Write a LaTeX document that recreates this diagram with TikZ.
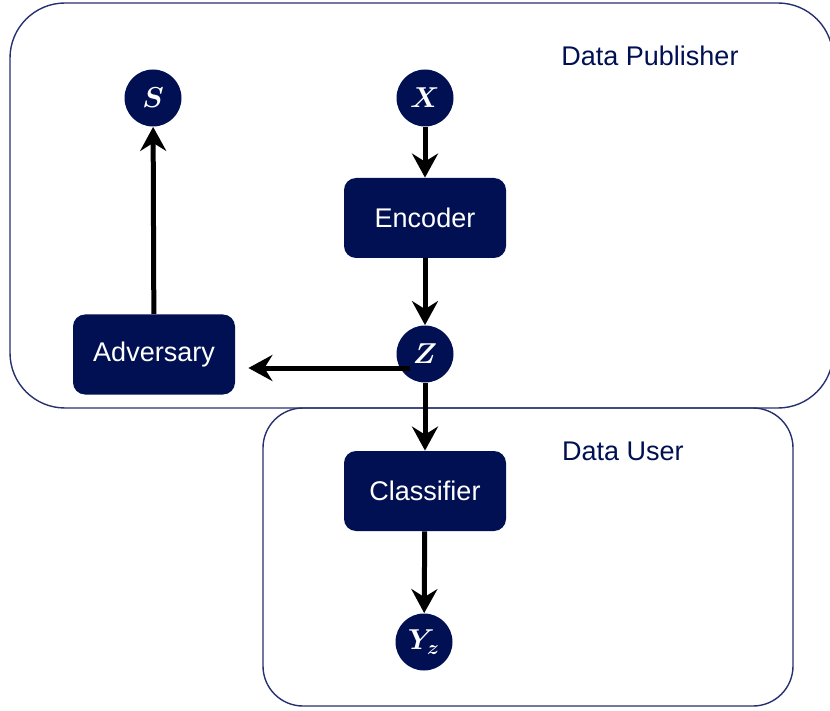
\documentclass[tikz,border=0pt]{standalone}
\usepackage{fontspec}
\setmainfont{Liberation Sans}
\usepackage{amsmath}
\usetikzlibrary{arrows.meta}
\definecolor{navy}{RGB}{0,16,82}
\definecolor{rim}{RGB}{38,48,110}

\begin{document}
\begin{tikzpicture}[x=0.5pt,y=-0.5pt,
  font=\fontsize{13.5}{16}\selectfont,
  var/.style={circle,fill=navy,text=white,minimum size=28.5pt,inner sep=0pt,
    font=\fontsize{14.5}{16}\selectfont},
  block/.style={rectangle,rounded corners=6pt,fill=navy,text=white,
    minimum width=81pt,minimum height=40pt,inner sep=0pt},
  group/.style={draw=rim,line width=0.7pt},
  flow/.style={line width=2.5pt,-{Stealth[length=12pt,width=13pt,inset=4pt]}}]
\useasboundingbox (0,0) rectangle (830,711);
\draw[group,rounded corners=27.5pt] (10,3) rectangle (833,408);
\draw[group,rounded corners=20pt] (263,408) rectangle (793,706);
\node[text=navy] (pub) at (650,56) {Data Publisher};
\node[text=navy] (user) at (623,451) {Data User};
\node[var] (S) at (153,98) {$\boldsymbol{S}$};
\node[var] (X) at (425,98) {$\boldsymbol{X}$};
\node[block] (enc) at (425,218) {Encoder};
\node[var] (Z) at (425,354) {$\boldsymbol{Z}$};
\node[block] (adv) at (154,354.5) {Adversary};
\node[block] (clf) at (425,491) {Classifier};
\node[var] (Yz) at (424,642) {$\boldsymbol{Y_z}$};
\coordinate (zl) at ([shift={(-15,14)}]Z.center);
\draw[flow] (X) -- (enc);
\draw[flow] (enc) -- (Z);
\draw[flow] (adv) -- (S);
\draw[flow,shorten >=6.5pt] (zl) -- (zl -| adv.east);
\draw[flow] (Z) -- (clf);
\draw[flow] (clf) -- (Yz);
\end{tikzpicture}
\end{document}
